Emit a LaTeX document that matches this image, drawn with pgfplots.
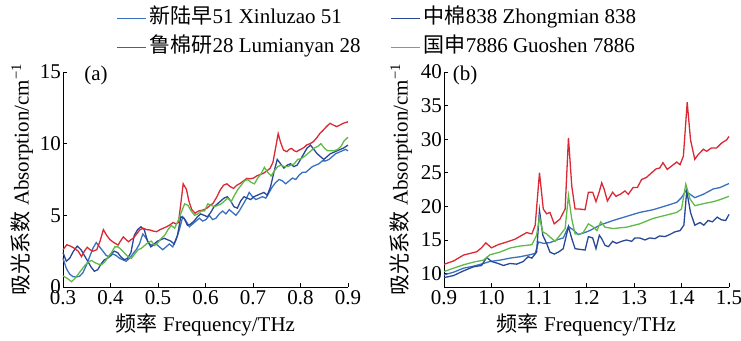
\documentclass[border=0pt]{standalone}
\usepackage{fontspec}
\setmainfont{Liberation Serif}
\newfontfamily\cjk{Noto Sans CJK SC}
\usepackage{pgfplots}
\pgfplotsset{compat=1.18}
\definecolor{cXin}{RGB}{58,112,192}
\definecolor{cZhong}{RGB}{40,72,150}
\definecolor{cLu}{RGB}{218,40,52}
\definecolor{cGuo}{RGB}{96,186,72}
\newcommand{\fs}{\fontsize{21}{24}\selectfont}
\pgfplotsset{
  every axis/.append style={
    scale only axis, width=285pt, height=215pt,
    axis x line*=bottom, axis y line*=left,
    axis line style={line width=0.9pt, black},
    tick align=inside, major tick length=4pt,
    tick style={line width=0.8pt, black},
    /pgf/number format/assume math mode=true,
    tick label style={font=\fs},
    label style={font=\fs},
    xticklabel style={inner sep=3.5pt},
    yticklabel style={inner sep=2pt},
    clip=false,
  },
}
\begin{document}
\begin{tikzpicture}
\path[use as bounding box] (0pt,0pt) rectangle (741pt,340pt);
% ---------------- panel (a)
\begin{axis}[
  at={(63pt,53pt)}, anchor=south west,
  xmin=0.3, xmax=0.9, ymin=0, ymax=15,
  xtick={0.3,0.4,...,0.9}, ytick={0,5,10,15},
  xticklabel style={/pgf/number format/.cd, fixed, fixed zerofill, precision=1},
  xlabel={{\cjk 频率} Frequency/THz},
  ylabel={{\cjk 吸光系数} Absorption/cm\textsuperscript{−1}},
  xlabel style={at={(axis description cs:0.5,0)}, anchor=center, yshift=-38pt},
  ylabel style={at={(axis description cs:0,0.5)}, anchor=center, yshift=41pt},
  legend columns=2,
  legend cell align=left,
  legend style={draw=none, fill=none, font=\fs, inner sep=0pt,
    at={(axis description cs:0.186,1.3116)}, anchor=north west,
    nodes={inner sep=3pt, text height=15pt, text depth=5pt},
    /tikz/row sep=3pt, /tikz/column sep=0pt},
  legend image code/.code={\draw[#1] (0pt,0pt) -- (29pt,0pt);},
]
\addplot[color=cXin, line width=1.3pt] table {
0.300 2.0
0.307 1.3
0.314 0.9
0.321 0.72
0.328 0.7
0.335 0.75
0.342 1.0
0.349 1.5
0.356 2.1
0.363 2.7
0.370 3.1
0.377 2.8
0.384 2.5
0.391 2.2
0.398 2.1
0.405 2.3
0.412 2.2
0.419 2.0
0.426 1.9
0.433 1.8
0.440 2.0
0.447 2.3
0.454 2.6
0.461 3.0
0.468 3.7
0.475 3.4
0.482 3.0
0.489 2.9
0.496 3.0
0.503 2.8
0.510 2.6
0.517 2.8
0.524 3.0
0.531 2.8
0.538 3.3
0.545 4.0
0.552 4.9
0.559 4.6
0.566 4.2
0.573 4.4
0.580 4.6
0.587 4.8
0.594 4.6
0.601 4.7
0.608 5.0
0.615 4.7
0.622 4.8
0.629 5.1
0.636 5.3
0.643 5.1
0.650 5.4
0.657 5.2
0.664 5.0
0.671 5.3
0.678 5.7
0.685 6.1
0.692 6.6
0.699 6.3
0.706 6.1
0.713 6.2
0.720 6.3
0.727 6.2
0.734 6.6
0.741 7.0
0.748 7.3
0.755 7.5
0.762 7.4
0.769 7.2
0.776 7.4
0.783 7.6
0.790 7.5
0.797 7.8
0.804 8.0
0.811 8.0
0.818 8.2
0.825 8.4
0.832 8.5
0.839 8.6
0.846 8.8
0.853 8.8
0.860 8.9
0.867 9.1
0.874 9.3
0.881 9.4
0.888 9.5
0.895 9.6
0.900 9.5
};
\addlegendentry{\makebox[238pt][l]{{\cjk 新陆早}51 Xinluzao 51}}
\addplot[color=cZhong, line width=1.3pt] table {
0.300 2.4
0.307 1.8
0.314 2.0
0.322 2.5
0.330 2.85
0.338 2.6
0.345 2.2
0.352 1.8
0.359 1.4
0.366 1.1
0.373 1.2
0.380 1.6
0.387 1.9
0.394 2.0
0.401 2.3
0.408 2.5
0.415 2.4
0.422 2.1
0.429 1.9
0.436 2.0
0.443 2.4
0.450 3.6
0.457 4.0
0.464 4.2
0.471 4.0
0.478 3.2
0.485 2.8
0.492 3.0
0.499 3.2
0.506 3.3
0.513 3.4
0.520 3.3
0.527 3.2
0.534 3.0
0.541 3.6
0.548 4.9
0.555 4.8
0.562 4.3
0.569 4.4
0.576 4.6
0.583 4.9
0.590 5.1
0.597 5.0
0.604 4.9
0.611 5.2
0.618 5.6
0.625 5.8
0.632 6.0
0.639 6.2
0.646 6.3
0.653 6.0
0.660 5.6
0.667 5.5
0.674 6.0
0.681 6.3
0.688 6.2
0.695 6.1
0.702 6.3
0.709 6.4
0.716 6.5
0.723 6.6
0.730 6.4
0.737 7.0
0.744 8.0
0.751 8.9
0.758 8.6
0.765 8.3
0.772 8.5
0.779 8.6
0.786 8.4
0.793 8.5
0.800 8.9
0.807 9.3
0.814 9.7
0.821 9.9
0.828 9.6
0.835 9.3
0.842 9.1
0.849 8.9
0.856 9.1
0.863 9.3
0.870 9.4
0.877 9.5
0.884 9.6
0.891 9.7
0.900 9.9
};
\addlegendentry{{\cjk 中棉}838 Zhongmian 838}
\addplot[color=cLu, line width=1.3pt] table {
0.300 2.6
0.308 2.95
0.316 2.85
0.324 2.7
0.332 2.5
0.339 2.12
0.345 2.5
0.351 2.77
0.357 2.6
0.363 2.5
0.371 2.6
0.378 3.2
0.385 4.0
0.392 3.6
0.399 3.3
0.407 3.1
0.416 2.93
0.421 3.2
0.427 3.5
0.433 3.3
0.438 3.16
0.443 3.3
0.448 3.4
0.455 3.7
0.462 4.0
0.469 4.1
0.476 4.0
0.483 3.98
0.490 3.9
0.497 3.86
0.504 4.0
0.511 4.1
0.518 4.2
0.525 4.33
0.532 4.5
0.538 4.4
0.543 4.5
0.548 5.8
0.553 7.2
0.560 6.8
0.565 6.0
0.571 5.4
0.578 5.15
0.585 5.3
0.595 5.37
0.603 5.5
0.610 5.7
0.616 5.84
0.624 6.3
0.631 6.77
0.638 7.1
0.645 7.2
0.652 7.0
0.659 6.88
0.666 7.1
0.673 7.23
0.680 7.4
0.687 7.58
0.694 7.55
0.701 7.6
0.708 7.75
0.715 7.85
0.722 7.93
0.729 8.1
0.736 8.28
0.742 8.7
0.747 9.6
0.753 10.7
0.758 10.1
0.764 9.56
0.771 9.44
0.776 9.6
0.781 9.67
0.787 9.5
0.792 9.44
0.797 9.55
0.802 9.63
0.808 9.75
0.813 9.91
0.820 10.0
0.827 10.14
0.834 10.4
0.841 10.72
0.848 10.95
0.855 11.2
0.862 11.42
0.869 11.3
0.876 11.19
0.883 11.3
0.890 11.42
0.900 11.53
};
\addlegendentry{\makebox[238pt][l]{{\cjk 鲁棉研}28 Lumianyan 28}}
\addplot[color=cGuo, line width=1.3pt] table {
0.300 0.77
0.309 0.6
0.318 0.37
0.325 0.6
0.332 0.9
0.339 1.2
0.346 1.5
0.353 1.75
0.360 1.85
0.367 1.7
0.374 1.6
0.381 1.55
0.388 1.75
0.395 2.1
0.402 2.4
0.409 2.8
0.416 2.8
0.423 2.6
0.430 2.35
0.437 2.1
0.444 2.0
0.451 2.3
0.458 2.6
0.465 2.7
0.472 2.9
0.479 3.1
0.486 3.2
0.493 2.9
0.500 3.1
0.507 3.4
0.514 3.6
0.521 4.0
0.528 4.3
0.535 4.1
0.542 4.6
0.549 5.2
0.556 5.8
0.563 5.7
0.570 5.3
0.577 5.0
0.584 5.1
0.591 5.3
0.598 5.3
0.605 5.8
0.612 5.7
0.619 5.6
0.626 5.7
0.633 5.8
0.640 6.0
0.647 6.2
0.654 5.95
0.661 6.4
0.668 6.8
0.675 7.1
0.682 7.4
0.689 7.5
0.696 7.3
0.703 7.2
0.710 7.6
0.717 7.9
0.724 8.35
0.731 8.0
0.738 7.75
0.745 8.1
0.752 8.4
0.759 8.5
0.766 8.4
0.773 8.4
0.780 8.5
0.787 8.6
0.794 8.9
0.801 8.95
0.808 9.1
0.815 9.3
0.822 9.5
0.829 9.7
0.836 9.8
0.843 10.0
0.850 9.7
0.857 9.5
0.864 9.5
0.871 9.5
0.878 9.6
0.885 9.8
0.892 10.2
0.900 10.45
};
\addlegendentry{{\cjk 国申}7886 Guoshen 7886}
\node[font=\fs] at (axis description cs:0.116,0.986) {(a)};
\end{axis}
% ---------------- panel (b)
\begin{axis}[
  at={(444pt,53pt)}, anchor=south west,
  xmin=0.9, xmax=1.5, ymin=8, ymax=40,
  xtick={0.9,1.0,...,1.5}, ytick={10,15,...,40},
  xticklabel style={/pgf/number format/.cd, fixed, fixed zerofill, precision=1},
  xlabel={{\cjk 频率} Frequency/THz},
  ylabel={{\cjk 吸光系数} Absorption/cm\textsuperscript{−1}},
  xlabel style={at={(axis description cs:0.5,0)}, anchor=center, yshift=-38pt},
  ylabel style={at={(axis description cs:0,0.5)}, anchor=center, yshift=43pt},
]
\addplot[color=cXin, line width=1.3pt] table {
0.900 9.8
0.920 10.2
0.941 10.8
0.962 11.1
0.983 11.5
0.997 11.8
1.018 12.0
1.039 12.3
1.060 12.5
1.081 12.8
1.092 13.0
1.099 14.7
1.109 14.5
1.123 14.6
1.137 15.0
1.151 15.3
1.162 17.0
1.172 16.5
1.183 15.8
1.200 16.2
1.207 16.4
1.228 17.2
1.256 17.9
1.284 18.5
1.312 19.1
1.340 19.5
1.368 20.1
1.390 20.6
1.400 21.3
1.409 22.3
1.418 21.8
1.428 21.3
1.446 21.8
1.467 22.6
1.481 22.8
1.500 23.4
};
\addplot[color=cZhong, line width=1.3pt] table {
0.900 9.4
0.920 9.7
0.941 10.4
0.962 11.0
0.979 11.2
0.990 12.4
1.000 11.8
1.014 11.5
1.025 11.2
1.039 11.5
1.053 11.4
1.067 11.8
1.077 12.5
1.085 12.3
1.095 13.2
1.101 19.4
1.108 15.7
1.116 14.5
1.123 13.2
1.132 12.9
1.141 13.2
1.151 13.7
1.162 17.0
1.169 15.2
1.176 13.7
1.186 13.6
1.197 13.5
1.204 15.5
1.213 15.3
1.220 13.7
1.227 15.7
1.232 15.2
1.239 14.2
1.246 14.0
1.255 14.8
1.263 14.5
1.274 14.8
1.284 15.0
1.295 14.8
1.302 15.3
1.312 15.3
1.323 15.0
1.333 15.3
1.344 15.2
1.354 15.6
1.365 15.5
1.375 15.8
1.386 16.2
1.397 16.4
1.405 17.2
1.411 22.3
1.419 19.1
1.428 17.2
1.439 17.6
1.447 17.2
1.456 17.9
1.465 17.7
1.475 18.4
1.484 18.0
1.493 17.9
1.500 18.8
};
\addplot[color=cLu, line width=1.3pt] table {
0.900 11.38
0.920 11.87
0.941 12.75
0.955 13.0
0.969 13.25
0.979 13.83
0.988 14.57
1.000 13.83
1.014 14.3
1.032 14.7
1.049 15.1
1.064 15.7
1.074 16.1
1.085 15.9
1.092 17.2
1.101 25.0
1.109 19.6
1.116 18.9
1.123 19.1
1.132 17.4
1.144 18.1
1.155 19.6
1.162 30.2
1.169 23.0
1.176 19.6
1.186 19.6
1.197 19.5
1.204 22.1
1.213 22.1
1.220 20.7
1.227 22.2
1.232 23.5
1.237 22.6
1.244 20.8
1.255 22.1
1.262 21.5
1.271 21.8
1.281 22.3
1.288 21.8
1.298 22.8
1.307 22.8
1.316 24.0
1.326 24.3
1.337 25.0
1.347 25.6
1.354 25.7
1.361 26.5
1.370 25.5
1.379 26.0
1.390 26.6
1.397 26.2
1.404 27.5
1.412 35.5
1.419 29.9
1.428 27.0
1.435 27.7
1.446 28.5
1.453 28.2
1.463 28.7
1.474 28.7
1.484 29.4
1.495 29.9
1.500 30.4
};
\addplot[color=cGuo, line width=1.3pt] table {
0.900 10.3
0.920 10.8
0.941 11.3
0.962 11.7
0.983 12.0
0.997 12.8
1.018 13.2
1.039 13.8
1.060 14.1
1.074 14.2
1.085 14.3
1.095 15.7
1.101 18.4
1.108 16.2
1.116 15.9
1.127 15.2
1.134 14.8
1.144 15.7
1.155 16.7
1.162 21.6
1.169 18.1
1.176 15.9
1.186 15.9
1.193 16.1
1.204 17.4
1.215 16.9
1.222 16.4
1.230 17.7
1.239 16.9
1.256 16.7
1.284 16.9
1.312 17.4
1.340 18.2
1.368 18.7
1.390 19.1
1.400 19.6
1.409 23.3
1.418 21.1
1.428 20.1
1.446 20.4
1.467 20.7
1.481 21.0
1.500 21.5
};
\node[font=\fs] at (axis description cs:0.074,0.986) {(b)};
\end{axis}
\end{tikzpicture}
\end{document}
